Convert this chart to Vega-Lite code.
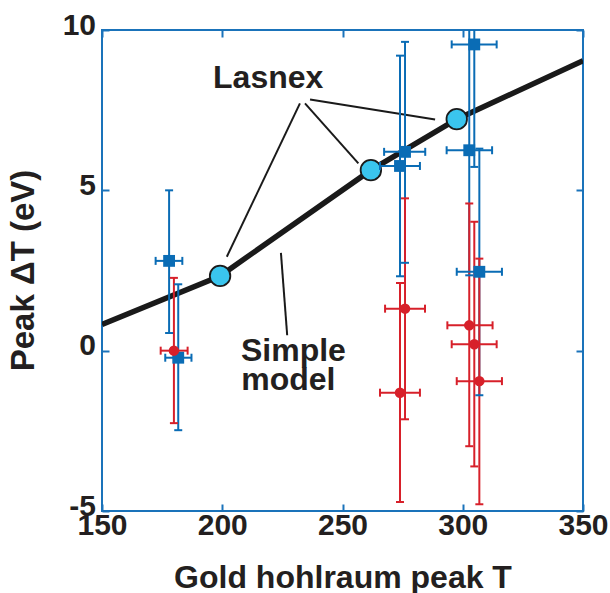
{
  "$schema": "https://vega.github.io/schema/vega-lite/v6.json",
  "width": 481,
  "height": 481,
  "autosize": "none",
  "padding": {"left": 102, "top": 30, "right": 27, "bottom": 82},
  "background": "white",
  "config": {
    "view": {"stroke": "#1a73ba", "strokeWidth": 2},
    "font": "Liberation Sans",
    "axis": {
      "grid": false,
      "domain": false,
      "tickSize": -7,
      "tickColor": "#1a73ba",
      "tickWidth": 2,
      "labelFlush": false,
      "labelOverlap": false,
      "labelFont": "Liberation Sans",
      "labelFontWeight": "bold",
      "labelFontSize": 30,
      "labelColor": "#231f20",
      "titleFont": "Liberation Sans",
      "titleFontWeight": "bold",
      "titleFontSize": 32,
      "titleColor": "#231f20"
    }
  },
  "datasets": {
    "model": [
      {"T": 150, "dT": 0.82},
      {"T": 199.1, "dT": 2.33},
      {"T": 261.8, "dT": 5.63},
      {"T": 297.5, "dT": 7.22},
      {"T": 350, "dT": 9.04}
    ],
    "lasnex": [
      {"T": 199.1, "dT": 2.33},
      {"T": 261.8, "dT": 5.63},
      {"T": 297.5, "dT": 7.22}
    ],
    "leaders": [
      {"x1": 232.3, "y1": 7.71, "x2": 201.9, "y2": 2.93},
      {"x1": 234.4, "y1": 7.71, "x2": 256.6, "y2": 5.84},
      {"x1": 236.5, "y1": 7.83, "x2": 288.5, "y2": 7.21},
      {"x1": 224.4, "y1": 3.05, "x2": 227.0, "y2": 0.48}
    ],
    "labels": [
      {"T": 219.1, "dT": 8.49, "txt": "Lasnex"},
      {"T": 229.6, "dT": 0.0, "txt": "Simple"},
      {"T": 227.5, "dT": -0.92, "txt": "model"}
    ],
    "pts": [
      {"s": "blue", "T": 177.9, "dT": 2.80, "ylo": 0.55, "yhi": 5.0, "xlo": 172.3, "xhi": 183.4},
      {"s": "blue", "T": 181.7, "dT": -0.22, "ylo": -2.48, "yhi": 2.07, "xlo": 176.3, "xhi": 187.2},
      {"s": "blue", "T": 273.9, "dT": 5.76, "ylo": 2.32, "yhi": 9.2, "xlo": 265.6, "xhi": 282.2},
      {"s": "blue", "T": 276.0, "dT": 6.2, "ylo": 2.74, "yhi": 9.63, "xlo": 267.3, "xhi": 284.4},
      {"s": "blue", "T": 304.8, "dT": 9.55, "ylo": 5.73, "yhi": 13.4, "xlo": 295.4, "xhi": 314.1},
      {"s": "blue", "T": 302.7, "dT": 6.25, "ylo": 2.35, "yhi": 10.15, "xlo": 293.3, "xhi": 312.2},
      {"s": "blue", "T": 306.9, "dT": 2.46, "ylo": -1.39, "yhi": 6.3, "xlo": 297.5, "xhi": 316.3},
      {"s": "red", "T": 179.9, "dT": 0.0, "ylo": -2.26, "yhi": 2.27, "xlo": 174.4, "xhi": 185.6},
      {"s": "red", "T": 276.0, "dT": 1.31, "ylo": -2.14, "yhi": 4.75, "xlo": 267.7, "xhi": 284.3},
      {"s": "red", "T": 273.9, "dT": -1.31, "ylo": -4.72, "yhi": 2.11, "xlo": 265.6, "xhi": 282.2},
      {"s": "red", "T": 302.7, "dT": 0.79, "ylo": -2.98, "yhi": 4.59, "xlo": 293.6, "xhi": 312.4},
      {"s": "red", "T": 304.8, "dT": 0.2, "ylo": -3.61, "yhi": 4.02, "xlo": 295.4, "xhi": 314.1},
      {"s": "red", "T": 306.9, "dT": -0.95, "ylo": -4.79, "yhi": 2.87, "xlo": 297.5, "xhi": 316.3}
    ]
  },
  "resolve": {"axis": {"x": "independent", "y": "independent"}},
  "layer": [
    {
      "data": {"name": "model"},
      "mark": {"type": "line", "color": "#1a1a1a", "strokeWidth": 5.5, "clip": true},
      "encoding": {
        "x": {"field": "T", "type": "quantitative", "scale": {"domain": [150, 350], "nice": false, "zero": false, "padding": 0},
              "axis": {"orient": "bottom", "values": [150, 200, 250, 300, 350], "labelPadding": 30, "labelBaseline": "alphabetic",
                       "title": "Gold hohlraum peak T", "titleY": 76, "titleBaseline": "alphabetic"}},
        "y": {"field": "dT", "type": "quantitative", "scale": {"domain": [-5, 10], "nice": false, "zero": false, "padding": 0},
              "axis": {"orient": "left", "values": [-5, 0, 5, 10], "labelPadding": 13.5, "labelBaseline": "middle", "labelOffset": -5,
                       "labelExpr": "'' + datum.value",
                       "title": "Peak ΔT (eV)", "titleFontSize": 33, "titleX": -62, "titleY": 240, "titleBaseline": "bottom"}}
      }
    },
    {
      "data": {"name": "leaders"},
      "mark": {"type": "rule", "color": "#1a1a1a", "strokeWidth": 2},
      "encoding": {
        "x": {"field": "x1", "type": "quantitative", "axis": null},
        "y": {"field": "y1", "type": "quantitative", "axis": null},
        "x2": {"field": "x2"},
        "y2": {"field": "y2"}
      }
    },
    {
      "data": {"name": "lasnex"},
      "mark": {"type": "point", "filled": true, "shape": "circle", "size": 420, "fill": "#3ac5ee", "stroke": "#1a1a1a", "strokeWidth": 1.8, "opacity": 1},
      "encoding": {
        "x": {"field": "T", "type": "quantitative",
              "axis": {"orient": "top", "values": [150, 200, 250, 300, 350], "labels": false, "title": null}},
        "y": {"field": "dT", "type": "quantitative",
              "axis": {"orient": "right", "values": [-5, 0, 5, 10], "labels": false, "title": null}}
      }
    },
    {
      "data": {"name": "pts"},
      "mark": {"type": "rule", "strokeWidth": 2, "clip": true},
      "encoding": {
        "x": {"field": "T", "type": "quantitative", "axis": null},
        "y": {"field": "ylo", "type": "quantitative", "axis": null},
        "y2": {"field": "yhi"},
        "color": {"field": "s", "type": "nominal", "scale": {"domain": ["blue", "red"], "range": ["#0a6cb5", "#d7202a"]}, "legend": null}
      }
    },
    {
      "data": {"name": "pts"},
      "mark": {"type": "rule", "strokeWidth": 2, "clip": true},
      "encoding": {
        "x": {"field": "xlo", "type": "quantitative", "axis": null},
        "x2": {"field": "xhi"},
        "y": {"field": "dT", "type": "quantitative", "axis": null},
        "color": {"field": "s", "type": "nominal", "legend": null}
      }
    },
    {
      "data": {"name": "pts"},
      "transform": [{"fold": ["ylo", "yhi"], "as": ["k", "yv"]}],
      "mark": {"type": "tick", "orient": "horizontal", "size": 8, "thickness": 2, "clip": true, "opacity": 1},
      "encoding": {
        "x": {"field": "T", "type": "quantitative", "axis": null},
        "y": {"field": "yv", "type": "quantitative", "axis": null},
        "color": {"field": "s", "type": "nominal", "legend": null}
      }
    },
    {
      "data": {"name": "pts"},
      "transform": [{"fold": ["xlo", "xhi"], "as": ["k", "xv"]}],
      "mark": {"type": "tick", "orient": "vertical", "size": 8, "thickness": 2, "clip": true, "opacity": 1},
      "encoding": {
        "x": {"field": "xv", "type": "quantitative", "axis": null},
        "y": {"field": "dT", "type": "quantitative", "axis": null},
        "color": {"field": "s", "type": "nominal", "legend": null}
      }
    },
    {
      "data": {"name": "pts"},
      "transform": [{"filter": "datum.s === 'blue'"}],
      "mark": {"type": "square", "filled": true, "size": 140, "color": "#0a6cb5", "opacity": 1},
      "encoding": {
        "x": {"field": "T", "type": "quantitative", "axis": null},
        "y": {"field": "dT", "type": "quantitative", "axis": null}
      }
    },
    {
      "data": {"name": "pts"},
      "transform": [{"filter": "datum.s === 'red'"}],
      "mark": {"type": "circle", "size": 110, "color": "#d7202a", "opacity": 1},
      "encoding": {
        "x": {"field": "T", "type": "quantitative", "axis": null},
        "y": {"field": "dT", "type": "quantitative", "axis": null}
      }
    },
    {
      "data": {"name": "labels"},
      "mark": {"type": "text", "font": "Liberation Sans", "fontWeight": "bold", "fontSize": 32, "color": "#231f20", "baseline": "middle", "align": "center"},
      "encoding": {
        "x": {"field": "T", "type": "quantitative", "axis": null},
        "y": {"field": "dT", "type": "quantitative", "axis": null},
        "text": {"field": "txt"}
      }
    }
  ]
}
